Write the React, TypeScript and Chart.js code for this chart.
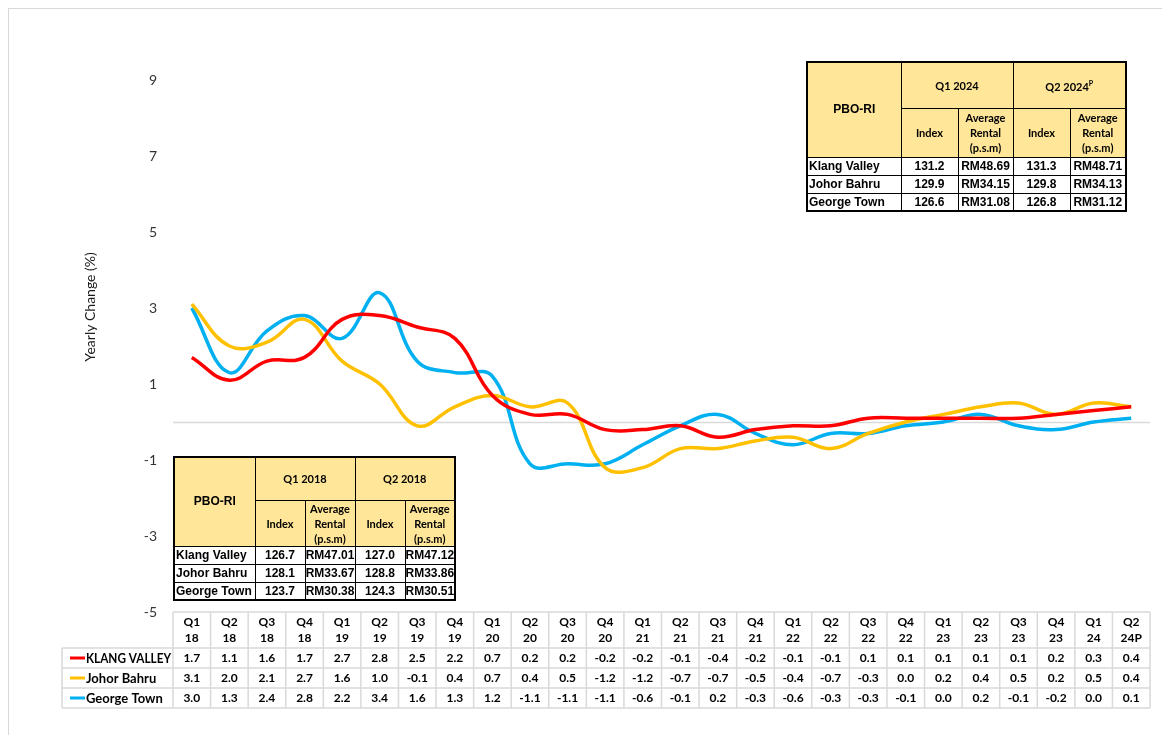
import React, { useEffect, useRef } from 'react';
import { Chart, registerables } from 'chart.js';

Chart.register(...registerables);

// ---------- data ----------
const quarterLabels = [
  'Q1 18', 'Q2 18', 'Q3 18', 'Q4 18',
  'Q1 19', 'Q2 19', 'Q3 19', 'Q4 19',
  'Q1 20', 'Q2 20', 'Q3 20', 'Q4 20',
  'Q1 21', 'Q2 21', 'Q3 21', 'Q4 21',
  'Q1 22', 'Q2 22', 'Q3 22', 'Q4 22',
  'Q1 23', 'Q2 23', 'Q3 23', 'Q4 23',
  'Q1 24', 'Q2 24P',
];
const klangValley = [1.7, 1.1, 1.6, 1.7, 2.7, 2.8, 2.5, 2.2, 0.7, 0.2, 0.2, -0.2, -0.2, -0.1, -0.4, -0.2, -0.1, -0.1, 0.1, 0.1, 0.1, 0.1, 0.1, 0.2, 0.3, 0.4];
const johorBahru = [3.1, 2.0, 2.1, 2.7, 1.6, 1.0, -0.1, 0.4, 0.7, 0.4, 0.5, -1.2, -1.2, -0.7, -0.7, -0.5, -0.4, -0.7, -0.3, 0.0, 0.2, 0.4, 0.5, 0.2, 0.5, 0.4];
const georgeTown = [3.0, 1.3, 2.4, 2.8, 2.2, 3.4, 1.6, 1.3, 1.2, -1.1, -1.1, -1.1, -0.6, -0.1, 0.2, -0.3, -0.6, -0.3, -0.3, -0.1, 0.0, 0.2, -0.1, -0.2, 0.0, 0.1];
const seriesNames = ['KLANG VALLEY', 'Johor Bahru', 'George Town'];
const seriesColors = ['#FF0000', '#FFC000', '#00B0F0'];

const yMin = -5;
const yMax = 9;
const yStep = 2;
const yTitle = 'Yearly Change (%)';

const cities = ['Klang Valley', 'Johor Bahru', 'George Town'];
const q1_2024Index = ['131.2', '129.9', '126.6'];
const q1_2024Rental = ['RM48.69', 'RM34.15', 'RM31.08'];
const q2_2024Index = ['131.3', '129.8', '126.8'];
const q2_2024Rental = ['RM48.71', 'RM34.13', 'RM31.12'];
const q1_2018Index = ['126.7', '128.1', '123.7'];
const q1_2018Rental = ['RM47.01', 'RM33.67', 'RM30.38'];
const q2_2018Index = ['127.0', '128.8', '124.3'];
const q2_2018Rental = ['RM47.12', 'RM33.86', 'RM30.51'];

// ---------- styles ----------
const W = 1162;
const H = 735;
const CAL = 'Lato, "Open Sans", sans-serif';
const ARIAL = '"Liberation Sans", Arial, sans-serif';

const tablePlugin = {
  id: 'tablePlugin',
  beforeDatasetsDraw(chart: any) {
    const { ctx, chartArea } = chart;
    const y = chart.scales.y;
    const y0 = Math.round(y.getPixelForValue(0)) + 0.5;
    ctx.save();
    ctx.strokeStyle = '#d9d9d9';
    ctx.lineWidth = 1.5;
    ctx.beginPath();
    ctx.moveTo(chartArea.left, y0);
    ctx.lineTo(chartArea.right, y0);
    ctx.stroke();
    ctx.restore();
  },
  afterDraw(chart: any) {
    const { ctx, chartArea } = chart;
    const x = chart.scales.x;
    const n = quarterLabels.length;
    const colW = x.getPixelForValue(1) - x.getPixelForValue(0);
    const top = chartArea.bottom;
    const headH = 36;
    const rowH = 20;
    const labelLeft = 62;
    const tableLeft = x.getPixelForValue(0) - colW / 2;
    const tableRight = x.getPixelForValue(n - 1) + colW / 2;
    const bottom = top + headH + rowH * 3;

    // y-axis title
    ctx.save();
    ctx.translate(90, 307);
    ctx.rotate(-Math.PI / 2);
    ctx.font = `14px ${CAL}`;
    ctx.fillStyle = '#1a1a1a';
    ctx.textAlign = 'center';
    ctx.textBaseline = 'middle';
    ctx.fillText(yTitle, 0, 0);
    ctx.restore();

    // grid
    ctx.save();
    ctx.strokeStyle = '#d9d9d9';
    ctx.lineWidth = 1.5;
    ctx.beginPath();
    ctx.moveTo(tableLeft, top);
    ctx.lineTo(tableRight, top);
    for (let r = 0; r <= 3; r++) {
      const yy = top + headH + r * rowH;
      ctx.moveTo(labelLeft, yy);
      ctx.lineTo(tableRight, yy);
    }
    ctx.moveTo(labelLeft, top + headH);
    ctx.lineTo(labelLeft, bottom);
    for (let i = 0; i <= n; i++) {
      const xx = tableLeft + i * colW;
      ctx.moveTo(xx, top);
      ctx.lineTo(xx, bottom);
    }
    ctx.stroke();

    // header text
    ctx.fillStyle = '#000';
    ctx.textAlign = 'center';
    ctx.textBaseline = 'middle';
    ctx.font = `bold 12px ${CAL}`;
    quarterLabels.forEach((lab, i) => {
      const cx = x.getPixelForValue(i);
      const [a, b] = lab.split(' ');
      ctx.fillText(a, cx, top + 10);
      ctx.fillText(b, cx, top + 26);
    });

    // rows
    const all = [klangValley, johorBahru, georgeTown];
    all.forEach((vals, r) => {
      const cy = top + headH + r * rowH + rowH / 2;
      ctx.strokeStyle = seriesColors[r];
      ctx.lineWidth = 3;
      ctx.beginPath();
      ctx.moveTo(70, cy);
      ctx.lineTo(85, cy);
      ctx.stroke();
      ctx.textAlign = 'left';
      ctx.font = `bold 13px ${CAL}`;
      ctx.fillText(seriesNames[r], 86, cy + 0.5, 85);
      ctx.textAlign = 'center';
      ctx.font = `bold 12px ${CAL}`;
      vals.forEach((v, i) => {
        ctx.fillText(v.toFixed(1), x.getPixelForValue(i), cy + 0.5);
      });
    });
    ctx.restore();
  },
};

function PboTable(props: {
  left: number; top: number; colW: number[]; rowH: number[];
  p1: string; p2: React.ReactNode;
  i1: string[]; r1: string[]; i2: string[]; r2: string[];
}) {
  const { left, top, colW, rowH, p1, p2, i1, r1, i2, r2 } = props;
  const total = colW.reduce((a, b) => a + b, 0);
  const hdr: React.CSSProperties = {
    background: '#FFE699', border: '1px solid #000', textAlign: 'center',
    verticalAlign: 'middle', fontFamily: CAL, fontWeight: 700, fontSize: 11,
    padding: 0, lineHeight: '15px', color: '#000',
  };
  const cell: React.CSSProperties = {
    background: '#fff', border: '1px solid #000', textAlign: 'center',
    verticalAlign: 'middle', fontFamily: ARIAL, fontWeight: 700, fontSize: 12,
    padding: 0, lineHeight: '16px', color: '#000', whiteSpace: 'nowrap', overflow: 'hidden',
  };
  return (
    <table
      style={{
        position: 'absolute', left, top, width: total, borderCollapse: 'collapse',
        tableLayout: 'fixed', border: '2px solid #000',
      }}
    >
      <colgroup>
        {colW.map((w, i) => <col key={i} style={{ width: w }} />)}
      </colgroup>
      <tbody>
        <tr style={{ height: rowH[0] }}>
          <td rowSpan={2} style={{ ...hdr, fontFamily: ARIAL, fontSize: 12 }}>PBO-RI</td>
          <td colSpan={2} style={hdr}>{p1}</td>
          <td colSpan={2} style={hdr}>{p2}</td>
        </tr>
        <tr style={{ height: rowH[1] }}>
          <td style={hdr}>Index</td>
          <td style={hdr}>Average<br />Rental<br />(p.s.m)</td>
          <td style={hdr}>Index</td>
          <td style={hdr}>Average<br />Rental<br />(p.s.m)</td>
        </tr>
        {cities.map((c, k) => (
          <tr key={c} style={{ height: rowH[2] }}>
            <td style={{ ...cell, textAlign: 'left', paddingLeft: 1 }}>{c}</td>
            <td style={cell}>{i1[k]}</td>
            <td style={cell}>{r1[k]}</td>
            <td style={cell}>{i2[k]}</td>
            <td style={cell}>{r2[k]}</td>
          </tr>
        ))}
      </tbody>
    </table>
  );
}

export default function App() {
  const ref = useRef<HTMLCanvasElement>(null);
  useEffect(() => {
    if (!ref.current) return;
    const chart = new Chart(ref.current, {
      type: 'line',
      data: {
        labels: quarterLabels,
        datasets: [klangValley, johorBahru, georgeTown].map((d, i) => ({
          label: seriesNames[i],
          data: d,
          borderColor: seriesColors[i],
          backgroundColor: seriesColors[i],
          borderWidth: 3.5,
          pointRadius: 0,
          tension: 0.4,
          fill: false,
        })),
      },
      options: {
        responsive: false,
        animation: false,
        devicePixelRatio: 1,
        layout: { padding: { top: 80, bottom: H - 612, right: W - 1150, left: 0 } },
        plugins: { legend: { display: false }, tooltip: { enabled: false } },
        scales: {
          x: { display: false, offset: true },
          y: {
            min: yMin,
            max: yMax,
            ticks: { stepSize: yStep, padding: 16, color: '#333', font: { family: CAL, size: 14 } },
            grid: { display: false, drawTicks: false },
            border: { display: false },
            afterFit: (s: any) => { s.width = 173; },
          },
        },
      },
      plugins: [tablePlugin],
    });
    return () => chart.destroy();
  }, []);

  return (
    <div style={{ position: 'fixed', left: 0, top: 0, width: W, height: H, overflow: 'hidden', background: '#fff' }}>
      <div style={{ position: 'absolute', left: 8, top: 8, width: W + 20, height: H + 20, borderLeft: '1px solid #d9d9d9', borderTop: '1px solid #d9d9d9' }} />
      <canvas ref={ref} width={W} height={H} style={{ position: 'absolute', left: 0, top: 0 }} />
      <PboTable
        left={806} top={61} colW={[94, 57, 55, 57, 56]} rowH={[46, 49, 18]}
        p1="Q1 2024" p2={<span>Q2 2024<sup style={{ fontSize: 7 }}>P</sup></span>}
        i1={q1_2024Index} r1={q1_2024Rental} i2={q2_2024Index} r2={q2_2024Rental}
      />
      <PboTable
        left={173} top={456} colW={[81, 50, 50, 50, 50]} rowH={[43, 45, 18]}
        p1="Q1 2018" p2="Q2 2018"
        i1={q1_2018Index} r1={q1_2018Rental} i2={q2_2018Index} r2={q2_2018Rental}
      />
    </div>
  );
}
